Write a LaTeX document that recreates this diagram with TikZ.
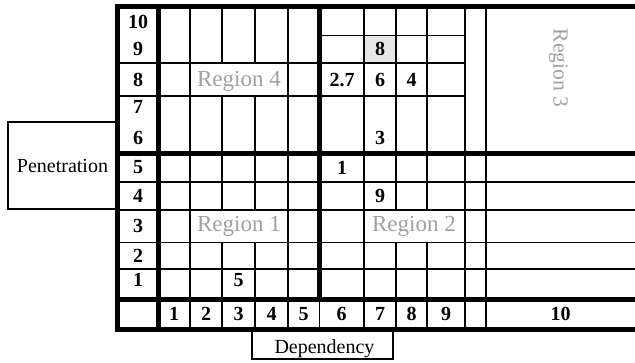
\documentclass[tikz,border=0pt]{standalone}
\usepackage{fontspec}
\setmainfont{Liberation Serif}
\definecolor{regiongray}{RGB}{160,160,160}
\definecolor{cellshade}{RGB}{230,230,230}
\begin{document}
\begin{tikzpicture}[x=1pt,y=-1pt,
  thickrule/.style={line width=5pt},
  thinrule/.style={line width=1.1pt},
  midrule/.style={line width=2pt},
  boxrule/.style={draw,line width=1.8pt,inner sep=0pt},
  num/.style={font=\fontsize{20}{20}\selectfont\bfseries, inner sep=0pt, anchor=center},
  region/.style={font=\fontsize{23}{23}\selectfont, text=regiongray, inner sep=0pt, anchor=base},
  axislabel/.style={font=\fontsize{20}{20}\selectfont, inner sep=0pt}]
\useasboundingbox (0,0) rectangle (635,362);

% shaded cell
\fill[cellshade] (364,35.5) rectangle (396,63);

% boxes for axis labels
\node[boxrule, minimum width=109pt, minimum height=87pt, axislabel] (penbox) at (62.5,165.5) {Penetration};
\node[boxrule, minimum width=141pt, minimum height=30pt] (depbox) at (322.5,344) {};
\node[axislabel, anchor=base] (deplabel) at (324.5,353) {Dependency};

% thin horizontal rules
\draw[thinrule] (319.5,35.5) -- (465,35.5);
\draw[thinrule] (117.5,63) -- (465,63);
\draw[thinrule] (117.5,96) -- (465,96);
\foreach \yy in {182,210,242.5,269} \draw[thinrule] (117.5,\yy) -- (635,\yy);

% thin vertical rules
\foreach \xx in {190,288,364} \draw[thinrule] (\xx,6.5) -- (\xx,329);
\foreach \xx in {222,255} {
  \draw[thinrule] (\xx,6.5) -- (\xx,63);
  \draw[thinrule] (\xx,96) -- (\xx,210);
  \draw[thinrule] (\xx,242.5) -- (\xx,329);
}
\foreach \xx in {396,427} {
  \draw[thinrule] (\xx,6.5) -- (\xx,210);
  \draw[thinrule] (\xx,242.5) -- (\xx,329);
}
\draw[thinrule] (319.5,299) -- (319.5,329);

% medium vertical rules
\foreach \xx in {465,486} \draw[midrule] (\xx,6.5) -- (\xx,329);

% thick rules
\draw[thickrule] (115,6.5) -- (635,6.5);
\draw[thickrule] (115,329) -- (635,329);
\draw[thickrule] (117.5,4) -- (117.5,331.5);
\draw[thickrule] (158.5,6.5) -- (158.5,329);
\draw[thickrule] (319.5,6.5) -- (319.5,299);
\draw[thickrule] (117.5,153) -- (635,153);
\draw[thickrule] (117.5,299) -- (635,299);

% row labels
\node[num] (p10) at (138,22) {10};
\node[num] (p9) at (138,48.5) {9};
\node[num] (p8) at (138,80) {8};
\node[num] (p7) at (138,107) {7};
\node[num] (p6) at (138,137.5) {6};
\node[num] (p5) at (138,167.5) {5};
\node[num] (p4) at (138,195.5) {4};
\node[num] (p3) at (138,226) {3};
\node[num] (p2) at (138,255.5) {2};
\node[num] (p1) at (138,279.5) {1};

% column labels
\node[num] (d1) at (174,314) {1};
\node[num] (d2) at (206,314) {2};
\node[num] (d3) at (238.5,314) {3};
\node[num] (d4) at (271.5,314) {4};
\node[num] (d5) at (303.5,314) {5};
\node[num] (d6) at (341.5,314) {6};
\node[num] (d7) at (380,314) {7};
\node[num] (d8) at (411.5,314) {8};
\node[num] (d9) at (446,314) {9};
\node[num] (d10) at (560.5,314) {10};

% data values
\node[num] (v8) at (380,49) {8};
\node[num] (v27) at (342,80) {2.7};
\node[num] (v6) at (380,80) {6};
\node[num] (v4) at (411.5,80) {4};
\node[num] (v3) at (380,137.5) {3};
\node[num] (v1) at (342,167.5) {1};
\node[num] (v9) at (380,195.5) {9};
\node[num] (v5) at (238.5,280) {5};

% region labels
\node[region] (r4) at (239,86) {Region 4};
\node[region] (r1) at (239,231) {Region 1};
\node[region] (r2) at (414,231) {Region 2};
\node[region, anchor=center, rotate=-90, font=\fontsize{21.5}{21.5}\selectfont] (r3) at (558.5,68) {Region 3};
\end{tikzpicture}
\end{document}
